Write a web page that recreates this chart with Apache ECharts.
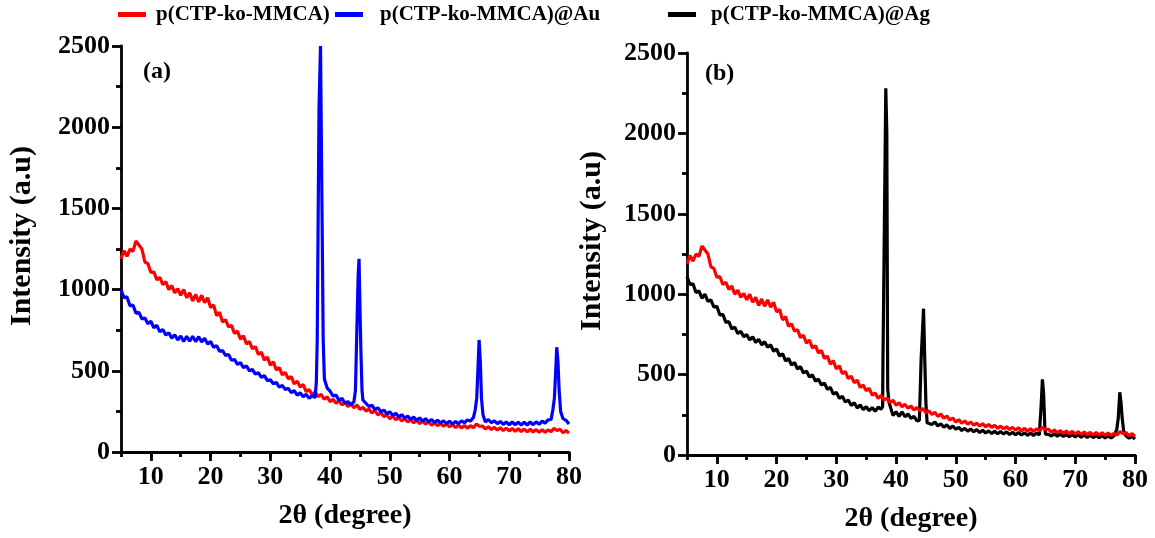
<!DOCTYPE html>
<html><head><meta charset="utf-8">
<script src="https://cdn.jsdelivr.net/npm/echarts@6/dist/echarts.min.js"></script>
<style>html,body{margin:0;padding:0;background:#fff}#c{width:1155px;height:538px}</style>
</head><body><div id="c"></div>
<script>
// ---- data (2θ grid starts at 5°, step 0.5°) ----
const X_START = 5, X_STEP = 0.5;
const seriesNames = ['p(CTP-ko-MMCA)', 'p(CTP-ko-MMCA)@Au', 'p(CTP-ko-MMCA)@Ag'];

const redBase = [
  1190,1240,1205,1250,1235,1300,1275,1250,1170,1160,
  1105,1110,1060,1075,1030,1050,1000,1025,980,1005,
  965,1000,950,980,930,970,925,965,920,950,
  890,905,840,860,800,815,770,780,730,745,
  695,715,665,680,635,650,600,615,565,585,
  535,555,505,520,475,490,450,465,420,435,
  400,415,372,385,352,370,340,355,325,340,
  310,325,300,315,290,305,280,295,272,290,
  262,275,252,265,240,255,228,242,218,230,
  205,220,198,212,192,205,185,198,180,195,
  175,190,172,185,165,180,162,176,158,172,
  155,170,150,166,148,163,146,162,150,172,
  158,160,142,156,138,152,135,150,132,147,
  130,145,128,143,126,141,124,140,123,138,
  122,137,121,136,125,145,132,140,118,133,
  116
];

const blueBase = [
  1000,950,955,900,905,855,860,820,825,790,
  805,765,780,740,755,720,735,700,722,690,
  715,680,712,682,712,680,710,678,700,665,
  680,645,655,620,625,595,600,565,570,540,
  550,520,530,500,508,480,488,460,470,440,
  445,420,428,400,410,385,392,365,378,350,
  365,340,355,330,348,335,null,null,null,395,
  375,345,350,318,330,300,310,290,310,null,
  null,320,300,280,288,262,272,248,258,235,
  248,225,238,215,230,208,222,200,215,195,
  210,190,205,186,200,182,196,178,192,175,
  190,172,188,175,192,180,198,190,212,null,
  null,null,185,200,180,192,175,188,170,185,
  168,185,168,184,166,184,166,185,168,186,
  170,190,178,198,200,null,null,null,205,195,
  172
];
const bluePeaks = [
  [37.7,430],[37.85,690],[38.15,2120],[38.4,2500],[38.65,1490],[38.85,690],[39.05,450],
  [44.25,380],[44.45,700],[44.7,1080],[44.85,1190],[45.0,900],[45.15,640],[45.35,380],
  [64.3,260],[64.55,330],[64.75,505],[64.95,690],[65.15,560],[65.35,330],[65.6,230],
  [77.3,260],[77.55,330],[77.75,480],[77.95,645],[78.15,560],[78.35,380],[78.6,250]
];

const blackBase = [
  1110,1060,1065,1010,1020,975,1000,955,965,920,
  925,870,875,825,830,785,795,755,770,735,
  750,715,735,700,720,685,705,670,685,645,
  660,615,630,585,600,560,575,535,550,510,
  522,485,498,460,472,435,448,408,420,378,
  390,352,365,330,342,308,325,292,312,282,
  300,275,295,272,298,285,null,null,null,245,
  270,240,268,238,255,228,240,212,null,null,
  null,205,190,205,180,195,172,188,165,180,
  160,172,152,166,148,162,144,158,140,154,
  137,150,134,148,132,146,130,144,128,142,
  126,140,124,139,122,137,121,136,125,null,
  130,128,118,132,116,130,115,128,113,127,
  112,126,110,125,109,124,108,122,107,121,
  106,120,105,120,null,null,null,118,104,116,
  100
];
const blackPeaks = [
  [37.75,300],[37.8,557],[38.05,557],[38.28,2280],[38.45,2005],[38.6,415],[38.8,330],
  [43.9,215],[44.2,600],[44.4,610],[44.6,910],[44.8,600],[45.0,320],[45.2,200],
  [64.1,200],[64.25,280],[64.5,470],[64.7,380],[64.9,180],
  [76.95,160],[77.2,230],[77.45,390],[77.65,330],[77.85,230],[78.1,150]
];

const X_MIN = 5, X_MAX = 80, X_TICK = 5, X_LABEL_EVERY = 10;
const xMajorTicks = [10, 20, 30, 40, 50, 60, 70, 80];
const Y_MIN = 0, Y_MAX = 2500, Y_TICK = 500;
const panelLabels = ['(a)', '(b)'];

// ---- build ----
function build(base, peaks) {
  const pts = [];
  base.forEach((v, i) => { if (v !== null) pts.push([X_START + i * X_STEP, v]); });
  (peaks || []).forEach(p => pts.push(p));
  pts.sort((a, b) => a[0] - b[0]);
  return pts;
}
const redData = build(redBase, []);
const blueData = build(blueBase, bluePeaks);
const blackData = build(blackBase, blackPeaks);

const FONT = 'Liberation Serif';
const AX_W = 2.8;
const TICK_C = '#000';

function mainX(gi) {
  return {
    type: 'value', gridIndex: gi, position: 'bottom', min: X_MIN, max: X_MAX, interval: X_TICK,
    axisLine: { show: true, onZero: false, lineStyle: { color: '#000', width: AX_W } },
    axisTick: { show: true, length: 5, lineStyle: { color: TICK_C, width: AX_W } },
    axisLabel: { show: true, margin: 12, color: '#000', fontFamily: FONT, fontWeight: 'bold', fontSize: 26,
                 formatter: v => (v % X_LABEL_EVERY === 0 ? String(v) : '') },
    splitLine: { show: false },
    name: '2θ (degree)', nameLocation: 'middle', nameGap: 50,
    nameTextStyle: { color: '#000', fontFamily: FONT, fontWeight: 'bold', fontSize: 28 }
  };
}
function majorTickX(gi) {
  return {
    type: 'value', gridIndex: gi, position: 'bottom', offset: 0, min: X_MIN, max: X_MAX, interval: X_TICK,
    axisLine: { show: false, onZero: false },
    axisTick: { show: true, customValues: xMajorTicks, length: 9, lineStyle: { color: TICK_C, width: AX_W } },
    axisLabel: { show: false },
    splitLine: { show: false }
  };
}
function mainY(gi, gap) {
  return {
    type: 'value', gridIndex: gi, min: Y_MIN, max: Y_MAX, interval: Y_TICK,
    axisLine: { show: true, onZero: false, lineStyle: { color: '#000', width: AX_W } },
    axisTick: { show: true, length: 9, lineStyle: { color: TICK_C, width: AX_W } },
    minorTick: { show: true, splitNumber: 2, length: 5, lineStyle: { color: TICK_C, width: AX_W } },
    axisLabel: { margin: 11, color: '#000', fontFamily: FONT, fontWeight: 'bold', fontSize: 26, formatter: v => String(v) },
    splitLine: { show: false },
    name: 'Intensity (a.u)', nameLocation: 'middle', nameGap: gap,
    nameTextStyle: { color: '#000', fontFamily: FONT, fontWeight: 'bold', fontSize: 30, padding: [0, 0, 0, 26] }
  };
}
function line(name, data, color, xi, yi) {
  return {
    type: 'line', name: name, data: data, xAxisIndex: xi, yAxisIndex: yi,
    showSymbol: false, symbol: 'none', animation: false,
    lineStyle: { color: color, width: 3.2 }, itemStyle: { color: color }
  };
}
function legend(name, left, pad) {
  return {
    data: [name], left: left, top: 4, icon: 'rect', itemWidth: 28, itemHeight: 5,
    selectedMode: false, padding: 0,
    textStyle: { color: '#000', fontFamily: FONT, fontWeight: 'bold', fontSize: 21, padding: [0, 0, 0, pad] }
  };
}

const chart = echarts.init(document.getElementById('c'), null, { renderer: 'canvas' });
chart.setOption({
  backgroundColor: '#fff',
  animation: false,
  title: [
    { text: panelLabels[0], left: 143, top: 60, padding: 0, textStyle: { color: '#000', fontFamily: FONT, fontWeight: 'bold', fontSize: 24 } },
    { text: panelLabels[1], left: 705, top: 62, padding: 0, textStyle: { color: '#000', fontFamily: FONT, fontWeight: 'bold', fontSize: 24 } }
  ],
  legend: [
    legend(seriesNames[0], 118, 5),
    legend(seriesNames[1], 335, 12),
    legend(seriesNames[2], 668, 10)
  ],
  grid: [
    { left: 121, top: 46, width: 448, height: 406 },
    { left: 687, top: 53, width: 448, height: 404 }
  ],
  xAxis: [mainX(0), mainX(1), majorTickX(0), majorTickX(1)],
  yAxis: [mainY(0, 84), mainY(1, 80)],
  series: [
    line(seriesNames[0], redData, '#ff0000', 0, 0),
    line(seriesNames[1], blueData, '#0000ff', 0, 0),
    line(seriesNames[2], blackData, '#000000', 1, 1),
    line(seriesNames[0], redData, '#ff0000', 1, 1)
  ]
});
</script>
</body></html>
